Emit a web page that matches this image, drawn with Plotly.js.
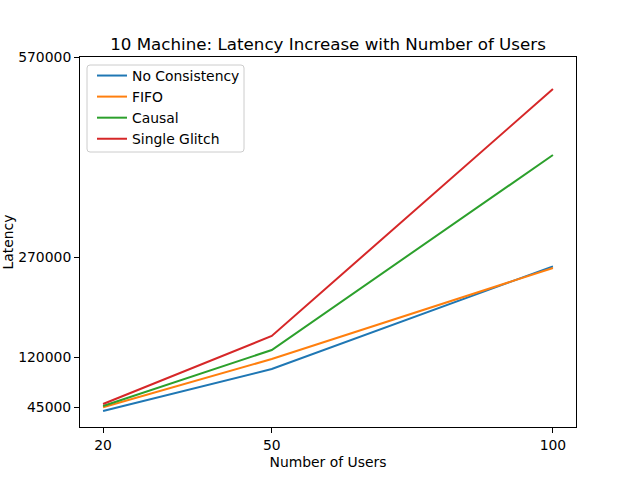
<!DOCTYPE html>
<html>
<head>
<meta charset="utf-8">
<script src="https://cdn.plot.ly/plotly-3.0.1.min.js"></script>
<style>html,body{margin:0;padding:0;background:#fff;}#chart{width:640px;height:480px;}</style>
</head>
<body>
<div id="chart"></div>
<script>
const users = [20, 50, 100];
const noConsistency = [39000, 102000, 256000];
const fifo = [44500, 117000, 253500];
const causal = [46500, 130500, 423000];
const singleGlitch = [49500, 151500, 522000];
const seriesNames = ["No Consistency", "FIFO", "Causal", "Single Glitch"];
const seriesColors = ["#1f77b4", "#ff7f0e", "#2ca02c", "#d62728"];
const yTicks = [45000, 120000, 270000, 570000];
const xTicks = [20, 50, 100];

const allSeries = [noConsistency, fifo, causal, singleGlitch];
const traces = allSeries.map((vals, i) => ({
  x: users, y: vals, type: "scatter", mode: "lines",
  name: seriesNames[i], line: {color: seriesColors[i], width: 2}
}));

const font = {family: "DejaVu Sans", size: 13.9, color: "#000"};
const axisCommon = {
  showgrid: false, zeroline: false, showline: true, mirror: true,
  linecolor: "#000", linewidth: 1, ticks: "outside", ticklen: 5,
  tickcolor: "#000", tickfont: font
};

// plot area in pixels: left 80, width 496, bottom 427, height 370
const px = v => (v - 80) / 496;
const py = v => (427 - v) / 370;
function roundRect(x0, y0, x1, y1, r) {
  return "M" + px(x0 + r) + "," + py(y0) +
    " L" + px(x1 - r) + "," + py(y0) +
    " Q" + px(x1) + "," + py(y0) + " " + px(x1) + "," + py(y0 + r) +
    " L" + px(x1) + "," + py(y1 - r) +
    " Q" + px(x1) + "," + py(y1) + " " + px(x1 - r) + "," + py(y1) +
    " L" + px(x0 + r) + "," + py(y1) +
    " Q" + px(x0) + "," + py(y1) + " " + px(x0) + "," + py(y1 - r) +
    " L" + px(x0) + "," + py(y0 + r) +
    " Q" + px(x0) + "," + py(y0) + " " + px(x0 + r) + "," + py(y0) + " Z";
}

const layout = {
  width: 640, height: 480,
  margin: {l: 80, r: 64, t: 57, b: 53},
  paper_bgcolor: "#fff", plot_bgcolor: "#fff",
  font: font,
  title: {text: "10 Machine: Latency Increase with Number of Users",
          font: {family: "DejaVu Sans", size: 16.7, color: "#000"},
          x: 0.5, xref: "paper", y: 1 - 44/480, yanchor: "middle"},
  xaxis: Object.assign({}, axisCommon, {
    range: [15.9, 104.1], tickvals: xTicks, ticktext: xTicks.map(String),
    title: {text: "Number of Users", font: font, standoff: 5}
  }),
  yaxis: Object.assign({}, axisCommon, {
    range: [15000, 570000], tickvals: yTicks, ticktext: yTicks.map(String),
    title: {text: "Latency", font: font, standoff: 12}
  }),
  showlegend: true,
  legend: {
    x: px(91), y: py(59), xanchor: "left", yanchor: "top",
    bgcolor: "rgba(0,0,0,0)", bordercolor: "rgba(0,0,0,0)", borderwidth: 1,
    font: font, tracegroupgap: 0
  },
  shapes: [{
    type: "path", xref: "paper", yref: "paper", layer: "above",
    path: roundRect(87, 65, 244, 152, 3),
    fillcolor: "rgba(255,255,255,0.8)",
    line: {color: "#cccccc", width: 1}
  }]
};

Plotly.newPlot("chart", traces, layout, {displayModeBar: false, staticPlot: true});
</script>
</body>
</html>
